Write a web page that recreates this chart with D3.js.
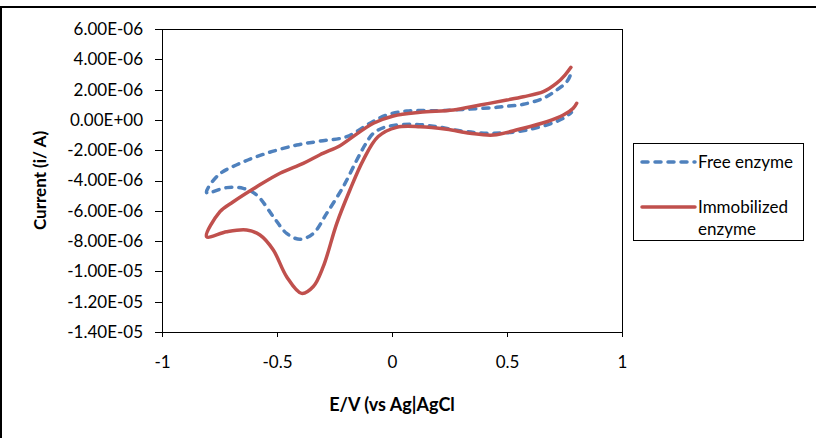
<!DOCTYPE html>
<html>
<head>
<meta charset="utf-8">
<script src="https://cdn.jsdelivr.net/npm/d3@7/dist/d3.min.js"></script>
<style>
  html, body { margin: 0; padding: 0; background: #fff; }
  svg { display: block; }
  text { font-family: Lato, "Open Sans", sans-serif; }
</style>
</head>
<body>
<svg id="chart" width="816" height="438"></svg>
<script>
// ---- Data (E in V, current in microamps ×1e-6 A) ----
const seriesNames = ["Free enzyme", "Immobilized enzyme"];
const xTicks = [-1, -0.5, 0, 0.5, 1];
const xTickLabels = ["-1", "-0.5", "0", "0.5", "1"];
const yTicks = [6e-6, 4e-6, 2e-6, 0, -2e-6, -4e-6, -6e-6, -8e-6, -1e-5, -1.2e-5, -1.4e-5];
const yTickLabels = ["6.00E-06", "4.00E-06", "2.00E-06", "0.00E+00", "-2.00E-06", "-4.00E-06",
  "-6.00E-06", "-8.00E-06", "-1.00E-05", "-1.20E-05", "-1.40E-05"];

// Free enzyme: potential (V) and current (µA) in scan order
const freeE = [0.774, 0.76, 0.716, 0.658, 0.571, 0.5, 0.455, 0.325, 0.194, 0.064, -0.023, -0.096,
  -0.197, -0.313, -0.414, -0.545, -0.661, -0.755, -0.806,
  -0.719, -0.647, -0.588, -0.516, -0.458, -0.4, -0.342, -0.284, -0.212, -0.153, -0.115, -0.081,
  -0.023, 0.093, 0.194, 0.325, 0.441, 0.542, 0.62, 0.7, 0.75, 0.78];
const freeI = [2.9, 2.52, 1.97, 1.43, 1.03, 0.9, 0.83, 0.7, 0.61, 0.59, 0.32, -0.22,
  -1.11, -1.4, -1.66, -2.2, -2.87, -3.64, -4.8,
  -4.47, -4.52, -4.96, -6.39, -7.49, -7.88, -7.49, -6.17, -4.41, -2.65, -1.6, -0.88,
  -0.45, -0.29, -0.45, -0.78, -0.88, -0.78, -0.55, -0.2, 0.15, 0.5];

// Immobilized enzyme
const immE = [0.778, 0.752, 0.716, 0.658, 0.571, 0.499, 0.383, 0.267, 0.122, 0.006, -0.081, -0.183,
  -0.226, -0.313, -0.386, -0.487, -0.588, -0.69, -0.748, -0.806,
  -0.719, -0.632, -0.574, -0.516, -0.458, -0.393, -0.342, -0.299, -0.24, -0.183, -0.125, -0.06,
  0.02, 0.122, 0.238, 0.339, 0.441, 0.557, 0.673, 0.745, 0.788, 0.803];
const immI = [3.47, 2.96, 2.42, 1.86, 1.53, 1.31, 0.98, 0.65, 0.5, 0.26, -0.22, -1.25,
  -1.7, -2.3, -2.87, -3.52, -4.41, -5.4, -6.06, -7.71,
  -7.38, -7.27, -7.6, -8.59, -10.35, -11.45, -11.0, -9.69, -6.83, -4.63, -2.65, -1.1,
  -0.49, -0.45, -0.62, -0.88, -1.0, -0.6, -0.12, 0.32, 0.77, 1.1];

const colors = ["#4F81BD", "#C0504D"];

// ---- Layout ----
const svg = d3.select("#chart");
const plot = { left: 162, right: 622, top: 29, bottom: 332 };
const fontSize = "17px";

const x = d3.scaleLinear().domain([-1, 1]).range([plot.left, plot.right]);
const y = d3.scaleLinear().domain([-1.4e-5, 6e-6]).range([plot.bottom, plot.top]);

// outer chart border (top/left visible)
svg.append("rect")
  .attr("x", 1).attr("y", 7).attr("width", 830).attr("height", 450)
  .attr("fill", "none").attr("stroke", "#000").attr("stroke-width", 2);

// plot area border
svg.append("rect")
  .attr("x", plot.left).attr("y", plot.top)
  .attr("width", plot.right - plot.left).attr("height", plot.bottom - plot.top)
  .attr("fill", "none").attr("stroke", "#000").attr("stroke-width", 1)
  .attr("shape-rendering", "crispEdges");

// axes
const yAxis = d3.axisLeft(y).tickValues(yTicks)
  .tickFormat((d, i) => yTickLabels[i]).tickSize(7).tickPadding(12);
const gy = svg.append("g").attr("transform", `translate(${plot.left},0)`).call(yAxis);

const xAxis = d3.axisBottom(x).tickValues(xTicks)
  .tickFormat((d, i) => xTickLabels[i]).tickSize(5).tickPadding(19);
const gx = svg.append("g").attr("transform", `translate(0,${plot.bottom})`).call(xAxis);

[gx, gy].forEach(g => {
  g.select(".domain").attr("stroke", "#000").attr("shape-rendering", "crispEdges");
  g.selectAll(".tick line").attr("stroke", "#000").attr("shape-rendering", "crispEdges");
  g.selectAll(".tick text").attr("fill", "#000")
    .style("font-family", "Lato, 'Open Sans', sans-serif").style("font-size", fontSize);
});

// axis titles
svg.append("text")
  .attr("x", (plot.left + plot.right) / 2).attr("y", 411)
  .attr("text-anchor", "middle")
  .style("font-size", "18px").style("font-weight", "bold").attr("fill", "#000")
  .text("E/V (vs Ag|AgCl");

svg.append("text")
  .attr("transform", `translate(46,${(plot.top + plot.bottom) / 2}) rotate(-90)`)
  .attr("text-anchor", "middle")
  .style("font-size", "17px").style("font-weight", "bold").attr("fill", "#000")
  .text("Current (i/ A)");

// series
const line = d3.line()
  .x(d => x(d[0])).y(d => y(d[1] * 1e-6))
  .curve(d3.curveCatmullRom.alpha(0.5));

const freeData = freeE.map((e, i) => [e, freeI[i]]);
const immData = immE.map((e, i) => [e, immI[i]]);

svg.append("path").datum(freeData)
  .attr("d", line).attr("fill", "none")
  .attr("stroke", colors[0]).attr("stroke-width", 3.5)
  .attr("stroke-dasharray", "6,7").attr("stroke-linecap", "round")
  .attr("stroke-linejoin", "round");

svg.append("path").datum(immData)
  .attr("d", line).attr("fill", "none")
  .attr("stroke", colors[1]).attr("stroke-width", 3.5)
  .attr("stroke-linecap", "round").attr("stroke-linejoin", "round");

// legend
const lg = svg.append("g");
lg.append("rect").attr("x", 633).attr("y", 143).attr("width", 170).attr("height", 97)
  .attr("fill", "#fff").attr("stroke", "#000").attr("stroke-width", 1)
  .attr("shape-rendering", "crispEdges");

lg.append("line").attr("x1", 642).attr("x2", 695).attr("y1", 162).attr("y2", 162)
  .attr("stroke", colors[0]).attr("stroke-width", 3.5)
  .attr("stroke-dasharray", "6,7").attr("stroke-linecap", "round");
lg.append("text").attr("x", 698).attr("y", 162).attr("dy", "0.35em")
  .style("font-size", fontSize).attr("fill", "#000").text(seriesNames[0]);

lg.append("line").attr("x1", 642).attr("x2", 695).attr("y1", 207).attr("y2", 207)
  .attr("stroke", colors[1]).attr("stroke-width", 3.5).attr("stroke-linecap", "round");
lg.append("text").attr("x", 698).attr("y", 207).attr("dy", "0.35em")
  .style("font-size", fontSize).attr("fill", "#000").text("Immobilized");
lg.append("text").attr("x", 698).attr("y", 229).attr("dy", "0.35em")
  .style("font-size", fontSize).attr("fill", "#000").text("enzyme");
</script>
</body>
</html>
